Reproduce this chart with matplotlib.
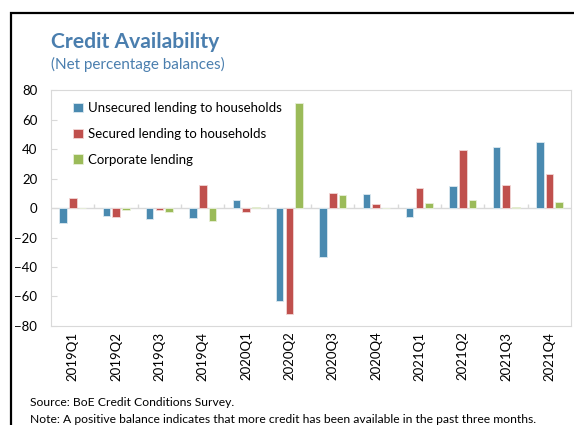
import numpy as np
import matplotlib.pyplot as plt
from matplotlib.patches import Rectangle

plt.rcParams['font.family'] = ['Lato', 'DejaVu Sans']

quarters = ['2019Q1', '2019Q2', '2019Q3', '2019Q4',
            '2020Q1', '2020Q2', '2020Q3', '2020Q4',
            '2021Q1', '2021Q2', '2021Q3', '2021Q4']
unsecured = [-10, -5.5, -7.7, -6.5, 5.4, -63, -33.5, 9.3, -6, 14.7, 41.4, 45]
secured = [7, -6, -1, 15.4, -3, -72, 10, 2.5, 13.8, 39.3, 15.6, 23.3]
corporate = [0.3, -1, -3, -9, 1, 71.4, 8.8, 0.3, 3.4, 5.2, 0.8, 3.9]
yticks = [80, 60, 40, 20, 0, -20, -40, -60, -80]

c_blue = '#4a8ab0'
c_red = '#c0504d'
c_green = '#9bbb59'
c_title = '#4a7eae'

fig = plt.figure(figsize=(5.74, 4.25), dpi=100)
ax = fig.add_axes([0.089, 0.233, 0.906, 0.555])

x = np.arange(len(quarters))
w = 0.175
step = 0.225
ax.bar(x - step, unsecured, w, color=c_blue, edgecolor='#dbe8f0', linewidth=0.6,
       label='Unsecured lending to households')
ax.bar(x, secured, w, color=c_red, edgecolor='#f2d6d5', linewidth=0.6,
       label='Secured lending to households')
ax.bar(x + step, corporate, w, color=c_green, edgecolor='#e8f0d8', linewidth=0.6,
       label='Corporate lending')

# zero line with small category separators
ax.axhline(0, color='#d9d9d9', linewidth=1, zorder=0)
ax.vlines(x[:-1] + 0.5, 0, 2.5, color='#d9d9d9', linewidth=1, zorder=0)

ax.set_xlim(-0.5, len(quarters) - 0.5)
ax.set_ylim(-80, 80)
ax.set_yticks(yticks)
ax.tick_params(axis='y', direction='in', length=4, color='#d9d9d9', labelsize=9.5, pad=10)
ax.set_xticks(x)
ax.set_xticklabels(quarters, rotation=90)
ax.tick_params(axis='x', length=0, labelsize=9.5, pad=4)
for s in ax.spines.values():
    s.set_color('#d9d9d9')

ax.legend(loc='upper left', frameon=False, fontsize=9.5, handlelength=0.7,
          handleheight=0.7, handletextpad=0.4, labelspacing=1.05,
          bbox_to_anchor=(0.02, 1.0))

fig.text(0.089, 0.888, 'Credit Availability', fontsize=15.2, fontweight='bold', color=c_title)
fig.text(0.089, 0.838, '(Net percentage balances)', fontsize=11, color=c_title)

fig.text(0.052, 0.052, 'Source: BoE Credit Conditions Survey.', fontsize=8.7, va='center')
fig.text(0.052, 0.014, 'Note: A positive balance indicates that more credit has been available in the past three months.',
         fontsize=8.7, va='center')

# outer frame
fig.add_artist(Rectangle((0.019, -0.2), 1.2, 1.17, transform=fig.transFigure,
                         fill=False, edgecolor='black', linewidth=1.6))

fig.savefig('out.png', dpi=100)
